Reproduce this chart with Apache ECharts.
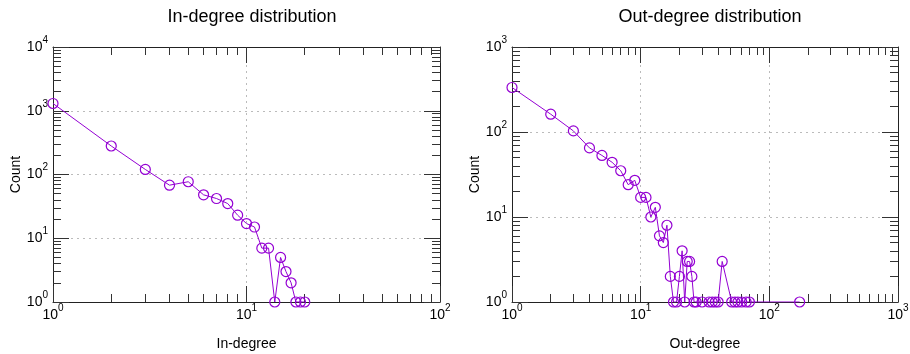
<!DOCTYPE html>
<html>
<head>
<meta charset="utf-8">
<script src="https://cdn.jsdelivr.net/npm/echarts@6/dist/echarts.min.js"></script>
<style>
  html, body { margin: 0; padding: 0; background: #fff; }
  #chart { width: 910px; height: 354px; }
</style>
</head>
<body>
<div id="chart"></div>
<script>
// in-degree distribution
const inDegree = [1, 2, 3, 4, 5, 6, 7, 8, 9, 10, 11, 12, 13, 14, 15, 16, 17, 18, 19, 20];
const inCount = [1300, 280, 120, 68, 77, 48, 42, 35, 23, 17, 15, 7, 7, 1, 5, 3, 2, 1, 1, 1];

// out-degree distribution
const outDegree = [1, 2, 3, 4, 5, 6, 7, 8, 9, 10, 11, 12, 13, 14, 15, 16, 17, 18, 19, 20,
  21, 22, 23, 24, 25, 26, 27, 30, 34, 36, 38, 40, 43, 51, 54, 57, 61, 66, 70, 172];
const outCount = [334, 162, 103, 65, 53, 44, 35, 24, 27, 17, 17, 10, 13, 6, 5, 8, 2, 1, 1, 2,
  4, 1, 3, 3, 2, 1, 1, 1, 1, 1, 1, 1, 3, 1, 1, 1, 1, 1, 1, 1];

// axis decades (exponents of 10)
const inXDecades = [0, 1, 2];
const inYDecades = [0, 1, 2, 3, 4];
const outXDecades = [0, 1, 2, 3];
const outYDecades = [0, 1, 2, 3];

const FONT = "Liberation Sans";
const COLOR = "#9400d3";
const TICK = "#333";
const FRAME = "#222";

const chart = echarts.init(document.getElementById("chart"));

// minor tick positions in log10 space: log10(k * 10^n), k = 2..9
const minorOf = (decades) => {
  const out = [];
  for (let i = 0; i < decades.length - 1; i++) {
    for (let k = 2; k <= 9; k++) out.push(decades[i] + Math.log10(k));
  }
  return out;
};

const powLabel = (v) => {
  const e = Math.round(Math.log10(v));
  return "{b|10}{s|" + e + "}";
};

const labelRich = {
  b: { fontSize: 14, fontFamily: FONT, color: "#000", lineHeight: 24 },
  s: { fontSize: 10, fontFamily: FONT, color: "#000", lineHeight: 10, verticalAlign: "top" },
};

// tick-only axis laid over the grid, in log10 space
const tickAxis = (gridIndex, position, decades, values, len, withLine) => ({
  type: "value",
  gridIndex: gridIndex,
  position: position,
  min: decades[0],
  max: decades[decades.length - 1],
  axisLine: { show: !!withLine, onZero: false, lineStyle: { color: FRAME, width: 1 } },
  splitLine: { show: false },
  axisLabel: { show: false, customValues: values },
  axisTick: {
    show: true,
    inside: true,
    length: len,
    customValues: values,
    lineStyle: { color: TICK, width: 1 },
  },
});

const mainAxis = (gridIndex, position, decades, name, isX) => ({
  type: "log",
  logBase: 10,
  gridIndex: gridIndex,
  position: position,
  min: Math.pow(10, decades[0]),
  max: Math.pow(10, decades[decades.length - 1]),
  name: name,
  nameLocation: "middle",
  nameGap: isX ? 35 : 30,
  nameTextStyle: { fontFamily: FONT, fontSize: 14, color: "#000" },
  axisLine: { show: true, onZero: false, lineStyle: { color: FRAME, width: 1 } },
  axisTick: { show: true, inside: true, length: 16, lineStyle: { color: TICK, width: 1 } },
  axisLabel: {
    show: true,
    margin: isX ? 1 : 5,
    showMinLabel: true,
    showMaxLabel: true,
    formatter: powLabel,
    rich: labelRich,
  },
  splitLine: { show: true, lineStyle: { color: "#bbb", width: 1, type: [2, 4] } },
});

const buildX = (g, decades, name) => [
  mainAxis(g, "bottom", decades, name, true),
  tickAxis(g, "bottom", decades, minorOf(decades), 8, false),
  tickAxis(g, "top", decades, decades, 16, true),
  tickAxis(g, "top", decades, minorOf(decades), 8, false),
];

const buildY = (g, decades) => [
  mainAxis(g, "left", decades, "Count", false),
  tickAxis(g, "left", decades, minorOf(decades), 8, false),
  tickAxis(g, "right", decades, decades, 16, true),
  tickAxis(g, "right", decades, minorOf(decades), 8, false),
];

const lineSeries = (xIdx, yIdx, xs, ys) => ({
  type: "line",
  xAxisIndex: xIdx,
  yAxisIndex: yIdx,
  data: xs.map((x, i) => [x, ys[i]]),
  symbol: "circle",
  symbolSize: 10,
  showAllSymbol: true,
  lineStyle: { color: COLOR, width: 1 },
  itemStyle: { color: "rgba(0,0,0,0)", borderColor: COLOR, borderWidth: 1.2 },
  emphasis: { disabled: true },
});

const option = {
  animation: false,
  backgroundColor: "#fff",
  title: [
    {
      text: "In-degree distribution",
      left: 247,
      top: 3,
      textAlign: "center",
      textStyle: { fontFamily: FONT, fontSize: 18, fontWeight: "normal", color: "#000" },
    },
    {
      text: "Out-degree distribution",
      left: 705,
      top: 3,
      textAlign: "center",
      textStyle: { fontFamily: FONT, fontSize: 18, fontWeight: "normal", color: "#000" },
    },
  ],
  grid: [
    { left: 53, top: 47, width: 387, height: 255, show: false, outerBoundsMode: "none" },
    { left: 512, top: 47, width: 386, height: 255, show: false, outerBoundsMode: "none" },
  ],
  xAxis: [].concat(buildX(0, inXDecades, "In-degree"), buildX(1, outXDecades, "Out-degree")),
  yAxis: [].concat(buildY(0, inYDecades), buildY(1, outYDecades)),
  series: [
    lineSeries(0, 0, inDegree, inCount),
    lineSeries(4, 4, outDegree, outCount),
  ],
};

chart.setOption(option);
</script>
</body>
</html>
